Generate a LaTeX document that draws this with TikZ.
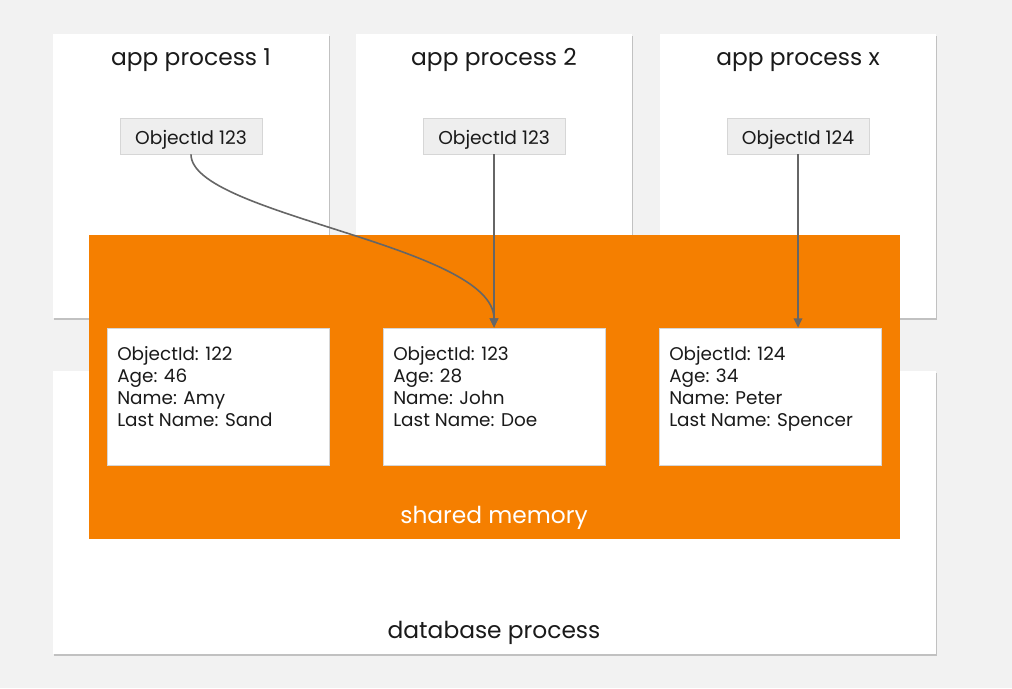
\documentclass[tikz,border=0pt]{standalone}
\usepackage{fontspec}
\setmainfont{Poppins}
\usetikzlibrary{arrows.meta,shadows}
\definecolor{bg}{HTML}{F2F2F2}
\definecolor{orng}{HTML}{F57F00}
\definecolor{idfill}{HTML}{EEEEEE}
\definecolor{idline}{HTML}{D6D6D6}
\definecolor{arr}{HTML}{666666}
\definecolor{txt}{HTML}{1A1A1A}
\tikzset{
  procbox/.style={fill=white, draw=none, inner sep=0pt, drop shadow={shadow xshift=0.8pt, shadow yshift=-1.2pt, opacity=0.2, fill=black}},
  membox/.style={fill=orng, draw=none, inner sep=0pt},
  recbox/.style={fill=white, draw=idline, line width=0.6pt, inner sep=0pt, minimum width=166.5pt, minimum height=102.75pt},
  idbox/.style={fill=idfill, draw=idline, line width=0.6pt, inner sep=0pt, minimum width=106.5pt, minimum height=27pt, font=\fontsize{14}{16}\selectfont, text=txt, text height=13pt, text depth=0pt},
  title/.style={font=\fontsize{17.5}{20}\selectfont, text=txt, inner sep=0pt, text height=12.6pt, text depth=0pt},
  rectext/.style={font=\fontsize{13.8}{16.5}\selectfont, text=txt, align=left, anchor=north west, inner sep=0pt},
  link/.style={draw=arr, line width=1.2pt, -{Triangle[length=7pt,width=6.5pt]}}
}
\begin{document}
\begin{tikzpicture}[x=0.75pt,y=-0.75pt]
\path[fill=bg] (0,0) rectangle (1012,688);
\useasboundingbox (0,0) rectangle (1012,688);
% app processes
\node[procbox, minimum width=207pt, minimum height=213pt] (a1) at (191,176) {};
\node[procbox, minimum width=207pt, minimum height=213pt] (a2) at (494,176) {};
\node[procbox, minimum width=207pt, minimum height=213pt] (a3) at (798,176) {};
% database process
\node[procbox, minimum width=662.25pt, minimum height=212.25pt] (db) at (494.5,512.5) {};
\node[title] (dbt) at (494,630.5) {database process};
% titles
\node[title] (t1) at (191,57.5) {app process 1};
\node[title] (t2) at (494,57.5) {app process 2};
\node[title] (t3) at (798,57.5) {app process x};
% shared memory
\node[membox, minimum width=608.25pt, minimum height=228pt] (sm) at (494.5,387) {};
\node[title, text=white] (smt) at (494,515.5) {shared memory};
% records
\node[recbox] (r1) at (218,396.5) {};
\node[recbox] (r2) at (494,396.5) {};
\node[recbox] (r3) at (770,396.5) {};
\node[rectext] (r1t) at (117,346) {ObjectId: 122\\Age: 46\\Name: Amy\\Last Name: Sand};
\node[rectext] (r2t) at (393,346) {ObjectId: 123\\Age: 28\\Name: John\\Last Name: Doe};
\node[rectext] (r3t) at (669,346) {ObjectId: 124\\Age: 34\\Name: Peter\\Last Name: Spencer};
% object ids
\node[idbox] (o1) at (191,136) {ObjectId 123};
\node[idbox] (o2) at (494,136) {ObjectId 123};
\node[idbox] (o3) at (798,136) {ObjectId 124};
% links
\draw[link] (o1.south) .. controls (191,215) and (494,245) .. (r2.north);
\draw[link] (o2.south) -- (r2.north);
\draw[link] (o3.south) -- (o3.south |- r3.north);
\end{tikzpicture}
\end{document}
